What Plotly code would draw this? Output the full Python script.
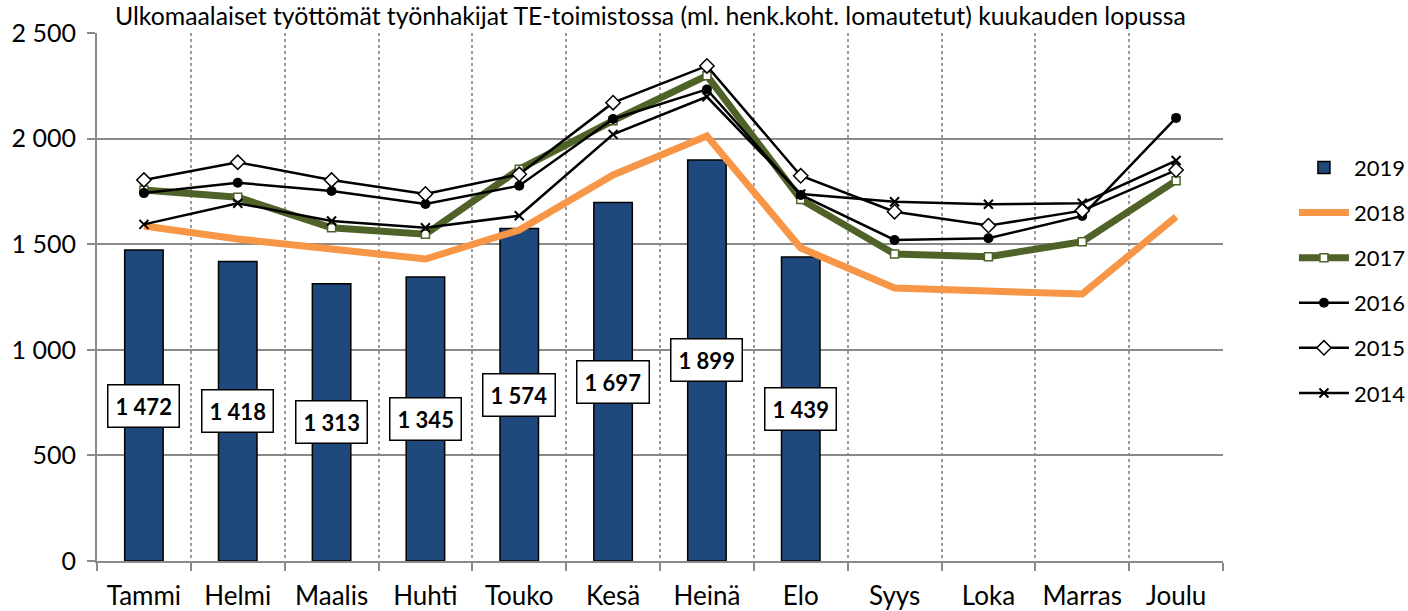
import plotly.graph_objects as go

months = ["Tammi", "Helmi", "Maalis", "Huhti", "Touko", "Kesä", "Heinä", "Elo",
          "Syys", "Loka", "Marras", "Joulu"]
v2019 = [1472, 1418, 1313, 1345, 1574, 1697, 1899, 1439]
v2018 = [1586, 1525, 1477, 1430, 1567, 1828, 2012, 1482, 1293, 1275, 1264, 1630]
v2017 = [1757, 1722, 1578, 1547, 1855, 2085, 2298, 1712, 1454, 1441, 1512, 1801]
v2016 = [1742, 1791, 1752, 1690, 1777, 2093, 2233, 1733, 1520, 1528, 1634, 2098]
v2015 = [1804, 1888, 1804, 1738, 1831, 2170, 2344, 1824, 1654, 1588, 1659, 1851]
v2014 = [1594, 1694, 1610, 1578, 1635, 2020, 2198, 1738, 1701, 1689, 1694, 1896]

title = "Ulkomaalaiset työttömät työnhakijat TE-toimistossa (ml. henk.koht. lomautetut) kuukauden lopussa"
FONT = "Lato, Open Sans, sans-serif"

def fmt(v):
    return f"{v:,}".replace(",", " ")

fig = go.Figure()
fig.add_trace(go.Bar(x=months[:len(v2019)], y=v2019, name="2019", legendgroup="a",
                     marker=dict(color="#1F497D", line=dict(color="black", width=1.5)),
                     width=0.41))
fig.add_trace(go.Scatter(x=months, y=v2018, name="2018", legendgroup="b", mode="lines",
                         line=dict(color="#F79646", width=7)))
fig.add_trace(go.Scatter(x=months, y=v2017, name="2017", legendgroup="c", mode="lines+markers",
                         line=dict(color="#4F6228", width=7),
                         marker=dict(symbol="square", size=8, color="white",
                                     line=dict(color="#4F6228", width=1.5))))
fig.add_trace(go.Scatter(x=months, y=v2016, name="2016", legendgroup="d", mode="lines+markers",
                         line=dict(color="black", width=2.5),
                         marker=dict(symbol="circle", size=10, color="black")))
fig.add_trace(go.Scatter(x=months, y=v2015, name="2015", legendgroup="e", mode="lines+markers",
                         line=dict(color="black", width=2.5),
                         marker=dict(symbol="diamond", size=11, color="white",
                                     line=dict(color="black", width=1.5))))
fig.add_trace(go.Scatter(x=months, y=v2014, name="2014", legendgroup="f", mode="lines+markers",
                         line=dict(color="black", width=2.5),
                         marker=dict(symbol="x-thin", size=9, color="black",
                                     line=dict(color="black", width=2))))

for m, v in zip(months, v2019):
    fig.add_annotation(x=m, y=v / 2, text=f"<b>{fmt(v)}</b>", showarrow=False,
                       font=dict(family=FONT, size=22, color="black"),
                       bgcolor="white", bordercolor="black", borderwidth=1.5,
                       borderpad=7)

fig.update_layout(
    width=1408, height=611,
    margin=dict(l=97, r=185, t=33, b=50, autoexpand=False),
    plot_bgcolor="white", paper_bgcolor="white",
    separators=", ",
    font=dict(family=FONT, size=20, color="black"),
    title=dict(text=title, x=0.0817, xanchor="left", y=0.974, yanchor="middle",
               font=dict(family=FONT, size=24.8, color="black")),
    showlegend=True,
    legend=dict(x=1.063, xanchor="left", y=0.531, yanchor="middle",
                traceorder="grouped", tracegroupgap=13.5,
                font=dict(family=FONT, size=22, color="black"),
                itemwidth=50, bgcolor="rgba(0,0,0,0)"),
    bargap=0.59,
)
fig.update_xaxes(type="category", categoryorder="array", categoryarray=months,
                 range=[-0.5, 11.5], tickson="boundaries", automargin=False,
                 showgrid=True, gridcolor="#9A9A9A", griddash="dot", gridwidth=1.5,
                 showline=True, linecolor="#8A8A8A", linewidth=2,
                 ticks="outside", ticklen=8, tickcolor="#8A8A8A", tickwidth=1.5,
                 ticklabelstandoff=11,
                 tickfont=dict(family=FONT, size=26), mirror=False)
fig.update_yaxes(range=[0, 2500], dtick=500, tickformat=",d", automargin=False,
                 showgrid=True, gridcolor="#8A8A8A", gridwidth=2,
                 showline=True, linecolor="#8A8A8A", linewidth=2,
                 ticks="outside", ticklen=8, tickcolor="#8A8A8A", tickwidth=2,
                 ticklabelstandoff=6,
                 tickfont=dict(family=FONT, size=25), zeroline=False)

fig.write_html("out.html", config={"displayModeBar": False},
               post_script="document.body.style.margin='0';document.body.style.overflow='hidden';")
